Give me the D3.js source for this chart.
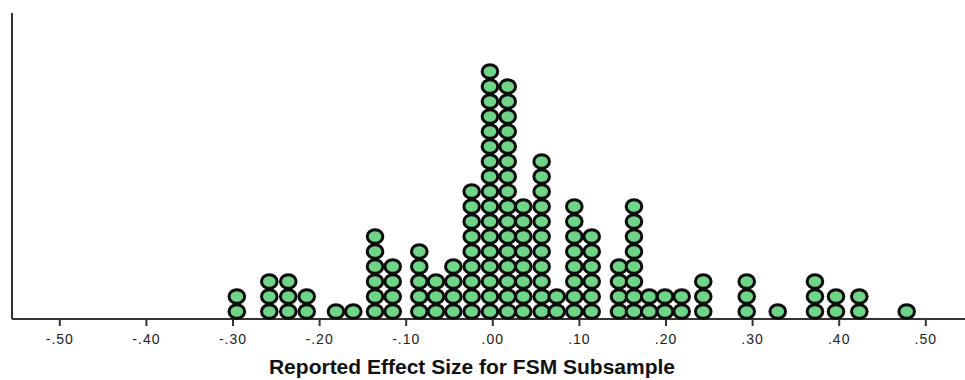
<!DOCTYPE html>
<html>
<head>
<meta charset="utf-8">
<script src="https://cdn.jsdelivr.net/npm/d3@7"></script>
<style>
html,body{margin:0;padding:0;background:#fff;}
svg{display:block;}
</style>
</head>
<body>
<svg id="chart" width="965" height="380"></svg>
<script>
// Bin centres (effect size) and number of stacked dots in each bin
const binValues = [-0.295,-0.2575,-0.2356,-0.2143,-0.1805,-0.1605,-0.1354,-0.115,-0.0843,-0.065,-0.045,
  -0.0238,-0.0027,0.0178,0.0358,0.057,0.0744,0.0947,0.1148,0.1463,0.1636,0.1813,0.1994,0.2187,0.2436,
  0.2938,0.3296,0.3726,0.3969,0.4238,0.4785];
const binCounts = [2,3,3,2,1,1,6,4,5,3,4,
  9,17,16,8,11,2,8,6,4,8,2,2,2,3,
  3,1,3,2,2,1];
const tickValues = [-0.5,-0.4,-0.3,-0.2,-0.1,0,0.1,0.2,0.3,0.4,0.5];
const tickLabels = ["-.50","-.40","-.30","-.20","-.10",".00",".10",".20",".30",".40",".50"];
const xTitle = "Reported Effect Size for FSM Subsample";

const svg = d3.select("#chart");
const x = d3.scaleLinear().domain([-0.5, 0.5]).range([59.3, 925.3]);
const y = d3.scaleLinear().domain([0, 20]).range([319, 19]);

const dots = [];
binValues.forEach((v, i) => {
  for (let k = 0; k < binCounts[i]; k++) dots.push({v: v, k: k});
});

// axes
const xAxis = d3.axisBottom(x)
  .tickValues(tickValues)
  .tickFormat((d, i) => tickLabels[i])
  .tickSize(7)
  .tickSizeOuter(0);
const gx = svg.append("g").attr("transform", `translate(0,${y(0)})`).call(xAxis);
gx.select(".domain").remove();
gx.selectAll(".tick line").attr("stroke", "#333").attr("stroke-width", 2);
gx.selectAll(".tick text")
  .attr("font-family", "Liberation Sans, Arial, sans-serif")
  .attr("font-size", 14)
  .attr("letter-spacing", 1)
  .attr("fill", "#222")
  .attr("y", 25)
  .attr("dy", 0);

svg.append("line").attr("x1", 12).attr("x2", 965).attr("y1", y(0)).attr("y2", y(0))
  .attr("stroke", "#333").attr("stroke-width", 2);
svg.append("line").attr("x1", 12).attr("x2", 12).attr("y1", 13).attr("y2", y(0))
  .attr("stroke", "#333").attr("stroke-width", 2);

svg.append("g").selectAll("ellipse").data(dots).join("ellipse")
  .attr("cx", d => x(d.v))
  .attr("cy", d => y(d.k + 0.5))
  .attr("rx", 7.8)
  .attr("ry", 6.8)
  .attr("fill", "#6fd487")
  .attr("stroke", "#0d0d0d")
  .attr("stroke-width", 3);

svg.append("text")
  .attr("x", 472).attr("y", 374)
  .attr("text-anchor", "middle")
  .attr("font-family", "Liberation Sans, Arial, sans-serif")
  .attr("font-weight", "bold")
  .attr("font-size", 21)
  .attr("fill", "#111")
  .text(xTitle);
</script>
</body>
</html>
